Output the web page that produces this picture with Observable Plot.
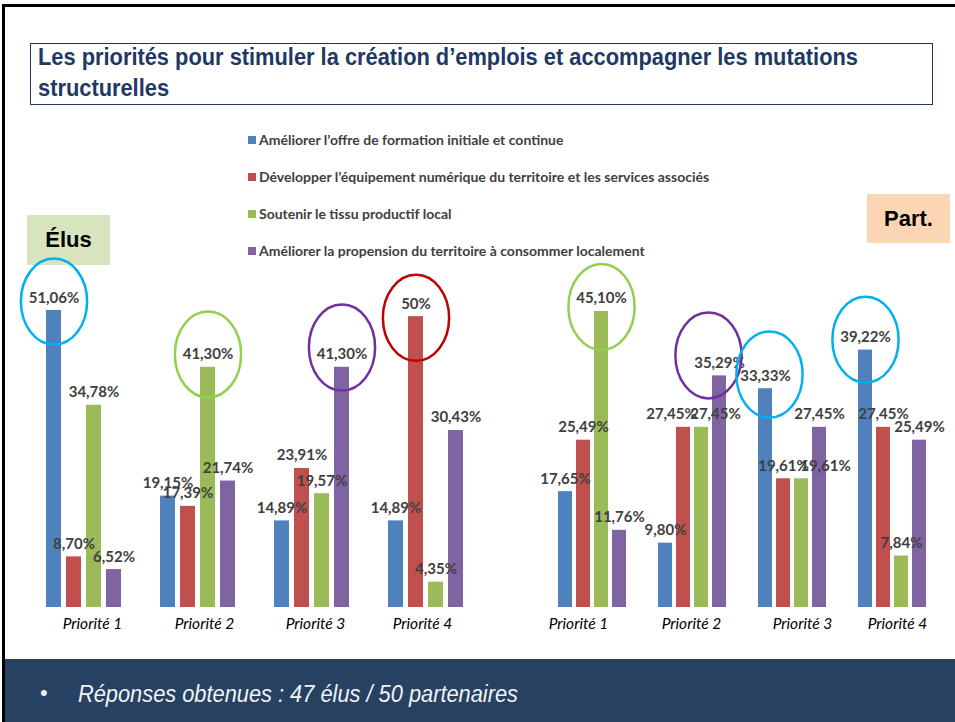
<!DOCTYPE html>
<html><head><meta charset="utf-8">
<script src="https://cdn.jsdelivr.net/npm/d3@7"></script>
<script src="https://cdn.jsdelivr.net/npm/@observablehq/plot@0.6"></script>
<style>
html,body{margin:0;padding:0;}
body{width:955px;height:722px;overflow:hidden;background:#fff;position:relative;font-family:Lato,sans-serif;}
#frame{position:absolute;left:2px;top:4px;width:953px;height:718px;border-left:3px solid #000;border-top:3px solid #000;box-sizing:border-box;}
#titlebox{position:absolute;left:30px;top:43px;width:903px;height:62px;border:1px solid #1f3864;box-sizing:border-box;}
#title{position:absolute;left:38px;top:42px;font-family:"Liberation Sans",Arial,sans-serif;font-weight:bold;font-size:23px;line-height:31px;color:#1f3864;white-space:nowrap;transform-origin:0 0;}
#legend{position:absolute;left:248px;top:121px;width:650px;}
.leg-swatches-columns .leg-swatch{height:37px !important;padding:0 !important;}
.leg-swatch svg{margin-right:3px !important;}
.leg-swatch-label{overflow:visible !important;}
.tag{position:absolute;font-family:"Liberation Sans",Arial,sans-serif;font-weight:bold;font-size:22px;color:#000;display:flex;align-items:center;justify-content:center;}
#elus{left:27px;top:215px;width:83px;height:50px;background:#d7e4bd;}
#part{left:867px;top:194px;width:83px;height:49px;background:#fcd5b5;}
#left{position:absolute;left:0;top:250px;}
#right{position:absolute;left:480px;top:240px;}
#band{position:absolute;left:5px;top:659px;width:950px;height:63px;background:#264162;color:#f2f2f2;font-family:"Liberation Sans",Arial,sans-serif;font-style:italic;font-size:23px;}
#bullet{position:absolute;left:35px;top:21px;font-style:normal;font-size:22px;}
#note{position:absolute;left:73px;top:22px;white-space:nowrap;transform-origin:0 0;}
</style></head>
<body>
<div id="frame"></div>
<div id="titlebox"></div>
<div id="title"><span id="t1">Les priorités pour stimuler la création d’emplois et accompagner les mutations</span><br>structurelles</div>
<div id="legend"></div>
<div class="tag" id="elus">Élus</div>
<div class="tag" id="part">Part.</div>
<div id="left"></div>
<div id="right"></div>
<div id="band"><span id="bullet">•</span><span id="note">Réponses obtenues : 47 élus / 50 partenaires</span></div>
<script>
const priorities = ["Priorité 1", "Priorité 2", "Priorité 3", "Priorité 4"];
const series = [
  "Améliorer l’offre de formation initiale et continue",
  "Développer l’équipement numérique du territoire et les services associés",
  "Soutenir le tissu productif local",
  "Améliorer la propension du territoire à consommer localement"
];
const colors = ["#4f81bd", "#c0504d", "#9bbb59", "#8064a2"];
// rows = priorities, columns = series
const elusValues = [
  [51.06, 8.70, 34.78, 6.52],
  [19.15, 17.39, 41.30, 21.74],
  [14.89, 23.91, 19.57, 41.30],
  [14.89, 50, 4.35, 30.43]
];
const partValues = [
  [17.65, 25.49, 45.10, 11.76],
  [9.80, 27.45, 27.45, 35.29],
  [33.33, 19.61, 19.61, 27.45],
  [39.22, 27.45, 7.84, 25.49]
];
// highlighted maxima (ellipses): priority, series index, level (in %), colour
const elusHighlights = [
  {priority: "Priorité 1", s: 0, level: 52.6, color: "#00b0f0"},
  {priority: "Priorité 2", s: 2, level: 43.5, color: "#92d050"},
  {priority: "Priorité 3", s: 3, level: 44.7, color: "#7030a0"},
  {priority: "Priorité 4", s: 1, level: 49.8, color: "#c00000"}
];
const partHighlights = [
  {priority: "Priorité 1", s: 2, level: 45.8, color: "#92d050"},
  {priority: "Priorité 2", s: 3, level: 38.4, color: "#7030a0"},
  {priority: "Priorité 3", s: 0, level: 35.5, color: "#00b0f0"},
  {priority: "Priorité 4", s: 0, level: 40.8, color: "#00b0f0"}
];

const fmt = v => (Number.isInteger(v) ? String(v) : v.toFixed(2).replace(".", ",")) + "%";

const ellipse = {
  draw(ctx, size) {
    const ry = Math.sqrt(size / Math.PI), rx = ry * 0.77, k = 0.5523;
    ctx.moveTo(rx, 0);
    ctx.bezierCurveTo(rx, ry * k, rx * k, ry, 0, ry);
    ctx.bezierCurveTo(-rx * k, ry, -rx, ry * k, -rx, 0);
    ctx.bezierCurveTo(-rx, -ry * k, -rx * k, -ry, 0, -ry);
    ctx.bezierCurveTo(rx * k, -ry, rx, -ry * k, rx, 0);
    ctx.closePath();
  }
};

// layout nudges (label / ellipse offsets as in the slide)
const key = (p, j) => p + "|" + j;
function chart(values, highlights, o) {
  const data = [];
  priorities.forEach((p, i) => series.forEach((s, j) => data.push({priority: p, series: s, j, value: values[i][j]})));
  const nudged = o.labelDx || {};
  const plain = data.filter(d => !(key(d.priority, d.j) in nudged));
  const labelOpts = {fx: "priority", x: "series", y: "value", text: d => fmt(d.value), dy: -8, lineAnchor: "bottom",
    fontSize: 15, fontWeight: "bold", fill: "#404040"};
  const ellDx = o.ellipseDx || {};
  const tickDx = o.tickDx || [0, 0, 0, 0];
  return Plot.plot({
    width: o.width, height: o.height,
    marginTop: o.mt, marginBottom: 28, marginLeft: o.ml, marginRight: o.mr,
    style: {background: "transparent", fontFamily: "Lato, sans-serif", overflow: "visible"},
    fx: {domain: priorities, paddingInner: o.fpi, paddingOuter: o.fpi / 2, axis: null, label: null},
    x: {domain: series, padding: o.xp, axis: null},
    y: {domain: [0, o.ymax], axis: null},
    color: {domain: series, range: colors},
    marks: [
      Plot.barY(data, {fx: "priority", x: "series", y: "value", fill: "series"}),
      Plot.text(plain, labelOpts),
      ...Object.entries(nudged).map(([k, dx]) =>
        Plot.text(data.filter(d => key(d.priority, d.j) === k), {...labelOpts, dx})),
      ...highlights.map(h => Plot.dot([h], {fx: "priority", x: d => series[d.s], y: "level", r: 43, symbol: ellipse,
        dx: ellDx[h.priority] || 0, stroke: h.color, strokeWidth: 2.5, fill: "none"})),
      ...priorities.map((p, i) => Plot.axisFx({anchor: "bottom", ticks: [p], dx: tickDx[i], tickSize: 0, tickPadding: 10,
        label: null, fontSize: 15.5, fontStyle: "italic", fill: "#000"}))
    ]
  });
}

document.getElementById("left").append(chart(elusValues, elusHighlights,
  {width: 490, height: 385, mt: 8, ml: 27, mr: 7, fpi: 0.232, xp: 0.227, ymax: 60,
   tickDx: [8, 6, 3, -4]}));
document.getElementById("right").append(chart(partValues, partHighlights,
  {width: 475, height: 395, mt: 6, ml: 61, mr: 13, fpi: 0.242, xp: 0.222, ymax: 55,
   labelDx: {"Priorité 2|1": -12, "Priorité 2|2": 14, "Priorité 3|2": 24},
   ellipseDx: {"Priorité 2": -11, "Priorité 3": 4},
   tickDx: [-14, -1, 10, 5]}));

document.getElementById("legend").append(Plot.legend({
  color: {domain: series, range: colors},
  legend: "swatches", swatchSize: 8, columns: 1, className: "leg",
  style: {fontFamily: "Lato, sans-serif", fontSize: "14px", fontWeight: "bold", color: "#404040"}
}));

// condensed text, as in the slide (narrow typeface emulated by horizontal scaling)
function fit(el, measureEl, target) {
  const w = measureEl.getBoundingClientRect().width;
  if (w > 0) el.style.transform = `scaleX(${target / w})`;
}
fit(document.getElementById("title"), document.getElementById("t1"), 820);
fit(document.getElementById("note"), document.getElementById("note"), 440);
</script>
</body></html>
